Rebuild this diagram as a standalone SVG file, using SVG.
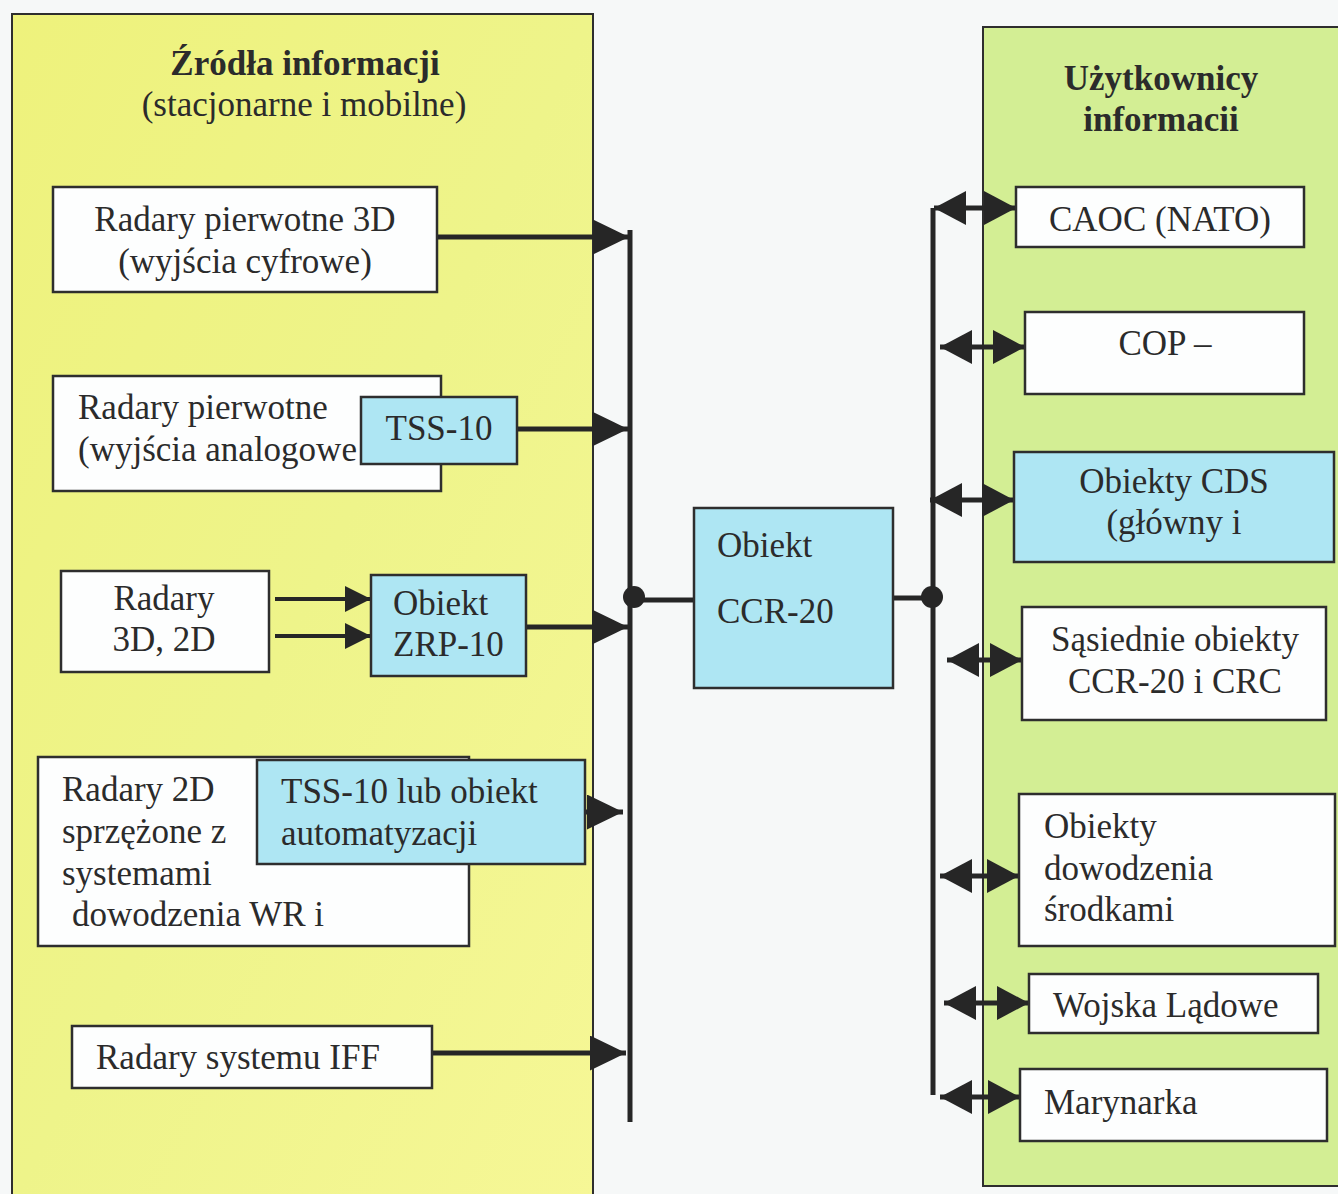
<svg xmlns="http://www.w3.org/2000/svg" width="1338" height="1194" viewBox="0 0 1338 1194">
  <style>
    text { font-family: "Liberation Serif", "Times New Roman", serif; font-size: 35px; fill: #2b2b2b; }
    .b { font-weight: bold; }
    .c { text-anchor: middle; }
    .panel { stroke: #2e2e2e; stroke-width: 2; }
    .box { fill: #fdfefe; stroke: #2e2e2e; stroke-width: 2.5; }
    .blue { fill: #aee6f3; stroke: #2e2e2e; stroke-width: 2.5; }
    .bus { stroke: #262626; stroke-width: 5; fill: none; }
    .arrow { stroke: #262626; stroke-width: 5; fill: none; marker-end: url(#head); }
    .small { stroke: #262626; stroke-width: 4; fill: none; marker-end: url(#headSmall); }
    .both { stroke: #262626; stroke-width: 5; fill: none; marker-start: url(#head2); marker-end: url(#head2); }
  </style>
  <defs>
    <linearGradient id="yellowGrad" x1="0" y1="0" x2="1" y2="1">
      <stop offset="0" stop-color="#eef27c"/>
      <stop offset="0.5" stop-color="#eef48a"/>
      <stop offset="1" stop-color="#f6f796"/>
    </linearGradient>
    <marker id="head" viewBox="0 0 36 35" refX="36" refY="17.5" markerWidth="36" markerHeight="35" markerUnits="userSpaceOnUse" orient="auto">
      <path d="M0,0 L36,17.5 L0,35 Z" fill="#262626"/>
    </marker>
    <marker id="headSmall" viewBox="0 0 26 26" refX="26" refY="13" markerWidth="26" markerHeight="26" markerUnits="userSpaceOnUse" orient="auto">
      <path d="M0,0 L26,13 L0,26 Z" fill="#262626"/>
    </marker>
    <marker id="head2" viewBox="0 0 32 34" refX="32" refY="17" markerWidth="32" markerHeight="34" markerUnits="userSpaceOnUse" orient="auto-start-reverse">
      <path d="M0,0 L32,17 L0,34 Z" fill="#262626"/>
    </marker>
  </defs>

  <rect width="1338" height="1194" fill="#f6f8f8"/>

  <!-- Panels -->
  <g id="panel-sources">
    <rect class="panel" x="12" y="14" width="581" height="1190" fill="url(#yellowGrad)"/>
    <text class="b c" x="305" y="75" font-size="38">Źródła informacji</text>
    <text class="c" x="304" y="116">(stacjonarne i mobilne)</text>
  </g>
  <g id="panel-users">
    <rect class="panel" x="983" y="27" width="370" height="1159" fill="#d3ee94"/>
    <text class="b c" x="1161" y="90">Użytkownicy</text>
    <text class="b c" x="1161" y="131">informacii</text>
  </g>

  <!-- Connectors -->
  <g id="connectors">
    <path class="bus" d="M630,230 V1122"/>
    <path class="bus" d="M933,208 V1095"/>
    <path class="bus" d="M633,600 H694"/>
    <path class="bus" d="M893,598 H931"/>
    <circle cx="634" cy="597" r="11" fill="#262626"/>
    <circle cx="932" cy="597" r="11" fill="#262626"/>

    <path class="arrow" d="M437,237 H629"/>
    <path class="arrow" d="M517,429 H628"/>
    <path class="small" d="M275,599 H371"/>
    <path class="small" d="M275,636 H371"/>
    <path class="arrow" d="M526,627 H628"/>
    <path class="arrow" d="M585,812 H623"/>
    <path class="arrow" d="M432,1053 H626"/>

    <path class="both" d="M934,208 H1016"/>
    <path class="both" d="M940,347 H1025"/>
    <path class="both" d="M930,500 H1014"/>
    <path class="both" d="M947,660 H1022"/>
    <path class="both" d="M940,876 H1019"/>
    <path class="both" d="M944,1003 H1029"/>
    <path class="both" d="M940,1097 H1020"/>
  </g>

  <!-- Sources -->
  <g id="primary-3d">
    <rect class="box" x="53" y="187" width="384" height="105"/>
    <text class="c" x="245" y="231">Radary pierwotne 3D</text>
    <text class="c" x="245" y="273">(wyjścia cyfrowe)</text>
  </g>
  <g id="primary-analog">
    <rect class="box" x="53" y="376" width="388" height="115"/>
    <text x="78" y="419">Radary pierwotne</text>
    <text x="78" y="461">(wyjścia analogowe</text>
  </g>
  <g id="tss10">
    <rect class="blue" x="361" y="397" width="156" height="67"/>
    <text class="c" x="439" y="440" font-size="34">TSS-10</text>
  </g>
  <g id="radars-3d-2d">
    <rect class="box" x="61" y="571" width="208" height="101"/>
    <text class="c" x="164" y="610" font-size="29">Radary</text>
    <text class="c" x="164" y="651">3D, 2D</text>
  </g>
  <g id="zrp10">
    <rect class="blue" x="371" y="575" width="155" height="101"/>
    <text x="393" y="615" font-size="33">Obiekt</text>
    <text x="393" y="656" font-size="34">ZRP-10</text>
  </g>
  <g id="radars-2d">
    <rect class="box" x="38" y="757" width="431" height="189"/>
    <text x="62" y="801">Radary 2D</text>
    <text x="62" y="843">sprzężone z</text>
    <text x="62" y="885">systemami</text>
    <text x="72" y="926">dowodzenia WR i</text>
  </g>
  <g id="tss10-automation">
    <rect class="blue" x="257" y="760" width="328" height="104"/>
    <text x="281" y="803">TSS-10 lub obiekt</text>
    <text x="281" y="845">automatyzacji</text>
  </g>
  <g id="iff">
    <rect class="box" x="72" y="1026" width="360" height="62"/>
    <text x="96" y="1069">Radary systemu IFF</text>
  </g>

  <!-- Central node -->
  <g id="ccr20">
    <rect class="blue" x="694" y="508" width="199" height="180"/>
    <text x="717" y="557" font-size="38">Obiekt</text>
    <text x="717" y="623" font-size="38">CCR-20</text>
  </g>

  <!-- Users -->
  <g id="caoc">
    <rect class="box" x="1016" y="187" width="288" height="60"/>
    <text class="c" x="1160" y="231">CAOC (NATO)</text>
  </g>
  <g id="cop">
    <rect class="box" x="1025" y="312" width="279" height="82"/>
    <text class="c" x="1165" y="355">COP –</text>
  </g>
  <g id="cds">
    <rect class="blue" x="1014" y="452" width="320" height="110"/>
    <text class="c" x="1174" y="493" font-size="32">Obiekty CDS</text>
    <text class="c" x="1174" y="534" font-size="32">(główny i</text>
  </g>
  <g id="neighbours">
    <rect class="box" x="1022" y="607" width="304" height="113"/>
    <text class="c" x="1175" y="651">Sąsiednie obiekty</text>
    <text class="c" x="1175" y="693">CCR-20 i CRC</text>
  </g>
  <g id="command">
    <rect class="box" x="1019" y="794" width="316" height="152"/>
    <text x="1044" y="838">Obiekty</text>
    <text x="1044" y="880">dowodzenia</text>
    <text x="1044" y="921">środkami</text>
  </g>
  <g id="land-forces">
    <rect class="box" x="1029" y="974" width="289" height="59"/>
    <text x="1053" y="1017">Wojska Lądowe</text>
  </g>
  <g id="navy">
    <rect class="box" x="1020" y="1069" width="307" height="72"/>
    <text x="1044" y="1114">Marynarka</text>
  </g>
</svg>
